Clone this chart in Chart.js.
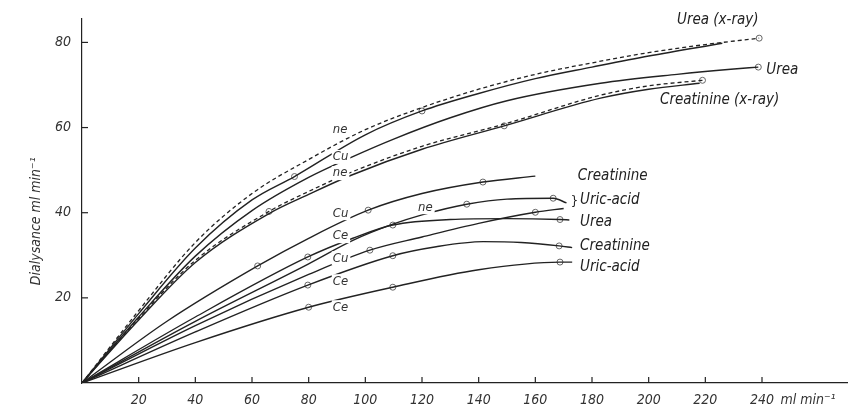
<!DOCTYPE html>
<html><head><meta charset="utf-8">
<script src="https://cdn.jsdelivr.net/npm/chart.js@4.4.1/dist/chart.umd.min.js"></script>
<style>html,body{margin:0;padding:0;background:#fff}</style>
</head><body>
<canvas id="c" width="861" height="410"></canvas>
<script>
const xTicks = [20,40,60,80,100,120,140,160,180,200,220,240];
const yTicks = [20,40,60,80];

// Upper group (x-ray and Cu urea)
const ureaXrayDashed = [[0,0],[20,17],[40,33],[60,44.5],[80,52.5],[100,59.5],[120,64.7],[140,69],[160,72.5],[180,75.2],[200,77.6],[220,79.5],[239,81]];
const ureaXraySolid  = [[0,0],[20,16.3],[40,31.7],[60,43],[75,48.5],[100,58.3],[120,63.9],[140,68],[160,71.5],[180,74.2],[200,76.8],[226,79.8]];
const ureaCu         = [[0,0],[20,15.5],[40,29.8],[60,40.5],[80,48.3],[95,53],[110,57.3],[130,62.3],[150,66.3],[183,70.4],[210,72.5],[229,73.7],[238.7,74.2]];
const creatXrayDashed= [[0,0],[20,15.2],[40,28.8],[66,40.3],[80,45],[95,49.5],[120,55.6],[150,61],[183,67.6],[200,69.8],[219,71.1]];
const creatXraySolid = [[0,0],[20,14.8],[40,28.3],[66,39.8],[80,44.3],[95,48.8],[120,54.9],[149,60.4],[183,66.9],[200,69],[218,70.4]];

// Lower group
const creatCu = [[0,0],[30,14.5],[62,27.5],[80,34],[101,40.6],[120,44.5],[141.5,47.2],[160,48.6]];
const uricNe  = [[0,0],[40,14.5],[80,28],[95.6,33.5],[109.7,37.3],[120,39.5],[135.8,42],[150,43.2],[166.3,43.4],[171,42.3]];
const ureaCe  = [[0,0],[40,15.5],[79.7,29.6],[95.6,34],[109.7,37.1],[130,38.4],[150,38.6],[168.7,38.4],[172,38.3]];
const uricCu  = [[0,0],[40,13.5],[80,25.5],[101.6,31.2],[120,34.3],[140,37.5],[160,40.1],[170,41]];
const creatCe = [[0,0],[40,12],[79.7,23],[109.7,29.9],[125,32],[141.6,33.2],[155,33],[168.4,32.2],[173,31.8]];
const uricCe  = [[0,0],[40,9.5],[80,17.8],[109.7,22.5],[140,26.6],[168.7,28.4],[173,28.4]];

// Measured points (open circles)
const ptsUreaXray  = [[75,48.5],[120,63.9],[239,81]];
const ptsUreaCu    = [[238.7,74.2]];
const ptsCreatXray = [[66,40.3],[149,60.4],[219,71.1]];
const ptsCreatCu   = [[62,27.5],[101,40.6],[141.5,47.2]];
const ptsUricNe    = [[135.8,42],[166.3,43.4]];
const ptsUreaCe    = [[79.7,29.6],[109.7,37.1],[168.7,38.4]];
const ptsUricCu    = [[101.6,31.2],[160,40.1]];
const ptsCreatCe   = [[79.7,23],[109.7,29.9],[168.4,32.2]];
const ptsUricCe    = [[80,17.8],[109.7,22.5],[168.7,28.4]];

// Curve names (right side) with anchor in data units
const endLabels = [
  ["Urea (x-ray)", 210, 85.2],
  ["Urea", 241.5, 73.5],
  ["Creatinine (x-ray)", 204, 66.4],
  ["Creatinine", 175, 48.6],
  ["Uric-acid", 175.8, 43],
  ["Urea", 175.8, 37.8],
  ["Creatinine", 175.8, 32.2],
  ["Uric-acid", 175.8, 27.2]
];
// Membrane labels
const memLabels = [
  ["ne", 88.5, 59.4], ["Cu", 88.5, 53.1], ["ne", 88.5, 49.3],
  ["Cu", 88.5, 39.9], ["ne", 118.6, 41.3], ["Ce", 88.5, 34.5],
  ["Cu", 88.5, 29.3], ["Ce", 88.5, 23.9], ["Ce", 88.5, 17.8]
];

const FONT = "'DejaVu Sans Condensed','DejaVu Sans',sans-serif";
const INK = '#222';

function toXY(a){ return a.map(p=>({x:p[0], y:p[1]})); }
function line(d, dashed){
  return {data: toXY(d), showLine:true, borderColor:INK, borderWidth: dashed?1.3:1.4,
    borderDash: dashed?[4,3]:[], pointRadius:0, cubicInterpolationMode:'monotone', fill:false};
}
function pts(d){
  return {data: toXY(d), showLine:false, pointRadius:3, pointBackgroundColor:'#fff',
    pointBorderColor:'#666', pointBorderWidth:1};
}

const decor = {
  id:'decor',
  afterDatasetsDraw(chart){
    const ctx = chart.ctx, xs = chart.scales.x, ys = chart.scales.y;
    const a = chart.chartArea;
    ctx.save();
    ctx.strokeStyle = INK; ctx.lineWidth = 1.2;
    xTicks.forEach(v=>{ const px = xs.getPixelForValue(v);
      ctx.beginPath(); ctx.moveTo(px, a.bottom); ctx.lineTo(px, a.bottom-6); ctx.stroke(); });
    yTicks.forEach(v=>{ const py = ys.getPixelForValue(v);
      ctx.beginPath(); ctx.moveTo(a.left, py); ctx.lineTo(a.left+6, py); ctx.stroke(); });
    ctx.font = 'italic 13px ' + FONT;
    ctx.textBaseline = 'middle'; ctx.textAlign = 'left';
    memLabels.forEach(l=>{
      const px = xs.getPixelForValue(l[1]), py = ys.getPixelForValue(l[2]);
      const w = ctx.measureText(l[0]).width;
      ctx.fillStyle = '#fff'; ctx.fillRect(px-1, py-7, w+3, 14);
      ctx.fillStyle = '#333'; ctx.fillText(l[0], px, py);
    });
    ctx.font = 'italic 15px ' + FONT;
    ctx.fillStyle = '#222';
    endLabels.forEach(l=>{
      ctx.fillText(l[0], xs.getPixelForValue(l[1]), ys.getPixelForValue(l[2]));
    });
    ctx.font = '13px ' + FONT;
    ctx.fillText('}', xs.getPixelForValue(172.5), ys.getPixelForValue(42.6));
    ctx.font = 'italic 14px ' + FONT;
    ctx.fillStyle = '#333';
    ctx.fillText('ml min\u207B\u00B9', xs.getPixelForValue(246.5), a.bottom + 17);
    ctx.translate(36, ys.getPixelForValue(38));
    ctx.rotate(-Math.PI/2);
    ctx.textAlign = 'center';
    ctx.fillText('Dialysance ml min\u207B\u00B9', 0, 0);
    ctx.restore();
  }
};

new Chart(document.getElementById('c'), {
  type:'scatter',
  data:{ datasets:[
    line(ureaXrayDashed,true), line(ureaXraySolid,false), line(ureaCu,false),
    line(creatXrayDashed,true), line(creatXraySolid,false),
    line(creatCu,false), line(uricNe,false), line(ureaCe,false),
    line(uricCu,false), line(creatCe,false), line(uricCe,false),
    pts(ptsUreaXray), pts(ptsUreaCu), pts(ptsCreatXray), pts(ptsCreatCu),
    pts(ptsUricNe), pts(ptsUreaCe), pts(ptsUricCu), pts(ptsCreatCe), pts(ptsUricCe)
  ]},
  options:{
    responsive:false, animation:false,
    layout:{padding:{top:19, right:14, left:0, bottom:0}},
    plugins:{legend:{display:false}, tooltip:{enabled:false}},
    scales:{
      x:{type:'linear', min:0, max:270,
        afterBuildTicks:s=>{ s.ticks = xTicks.map(v=>({value:v})); },
        afterFit:s=>{ s.height = 27; },
        grid:{display:false}, border:{color:INK, width:1.2},
        ticks:{padding:1, maxRotation:0, autoSkip:false, color:'#333', font:{family:FONT, size:14, style:'italic'}}},
      y:{type:'linear', min:0, max:85.5,
        afterBuildTicks:s=>{ s.ticks = yTicks.map(v=>({value:v})); },
        afterFit:s=>{ s.width = 82; },
        grid:{display:false}, border:{color:INK, width:1.2},
        ticks:{padding:3, color:'#333', font:{family:FONT, size:14, style:'italic'}}}
    }
  },
  plugins:[decor]
});
</script>
</body></html>
